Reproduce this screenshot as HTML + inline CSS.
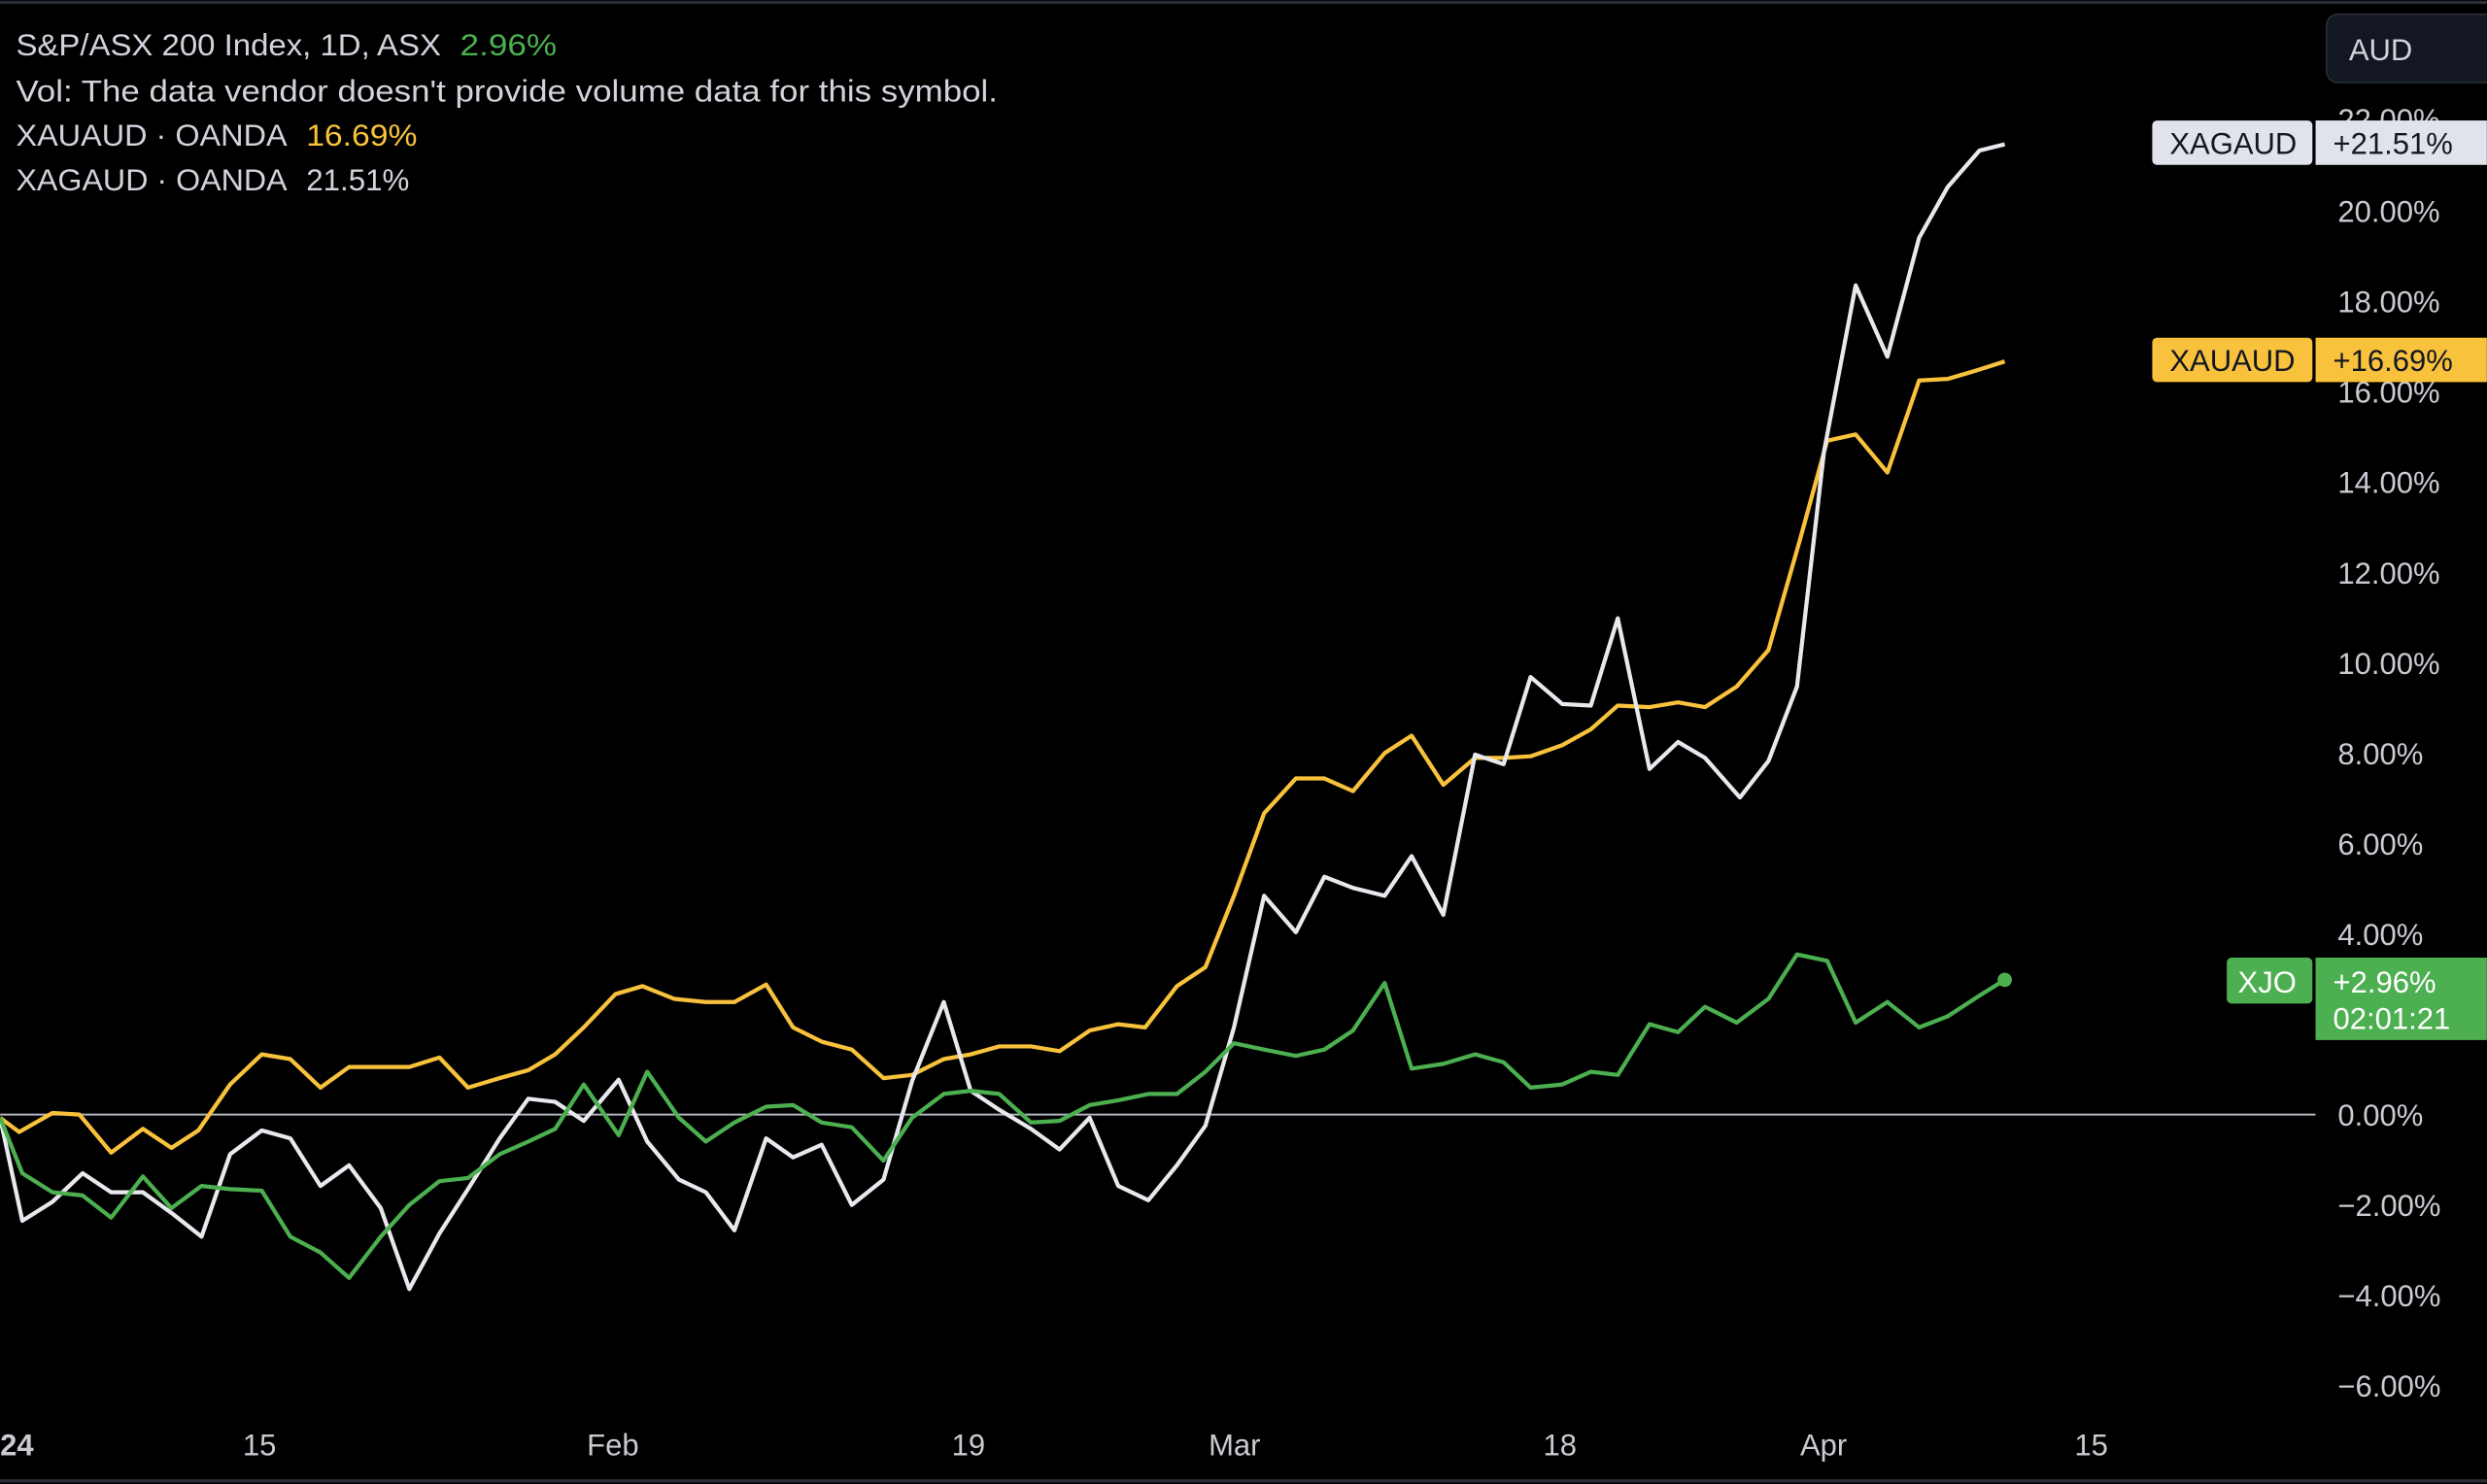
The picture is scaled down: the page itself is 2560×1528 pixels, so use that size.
<!DOCTYPE html>
<html><head><meta charset="utf-8"><style>
html,body{margin:0;padding:0;background:#000;width:2560px;height:1528px;overflow:hidden}
svg{display:block}
text{font-family:"Liberation Sans",sans-serif}
</style></head><body>
<svg width="2560" height="1528" viewBox="0 0 1568 936" xmlns="http://www.w3.org/2000/svg">
<rect width="1568" height="936" fill="#000"/>
<line x1="0" y1="1.5" x2="1568" y2="1.5" stroke="#2a2e39" stroke-width="2"/>
<line x1="0" y1="934" x2="1568" y2="934" stroke="#2a2e39" stroke-width="2"/>
<g font-size="19" fill="#d1d4dc">
<text x="10" y="35" textLength="268" lengthAdjust="spacingAndGlyphs">S&amp;P/ASX 200 Index, 1D, ASX</text>
<text x="290" y="35" fill="#4caf50" textLength="61" lengthAdjust="spacingAndGlyphs">2.96%</text>
<text x="10" y="64" textLength="619" lengthAdjust="spacingAndGlyphs">Vol: The data vendor doesn't provide volume data for this symbol.</text>
<text x="10" y="92" textLength="171" lengthAdjust="spacingAndGlyphs">XAUAUD · OANDA</text>
<text x="193" y="92" fill="#f9c23c" textLength="70" lengthAdjust="spacingAndGlyphs">16.69%</text>
<text x="10" y="120" textLength="171" lengthAdjust="spacingAndGlyphs">XAGAUD · OANDA</text>
<text x="193" y="120" textLength="65" lengthAdjust="spacingAndGlyphs">21.51%</text>
</g>
<line x1="0" y1="703" x2="1460" y2="703" stroke="#b2b5be" stroke-width="1.2"/>
<g font-size="19" fill="#c8cbd2">
<text x="1474" y="82">22.00%</text>
<text x="1474" y="140">20.00%</text>
<text x="1474" y="197">18.00%</text>
<text x="1474" y="254">16.00%</text>
<text x="1474" y="311">14.00%</text>
<text x="1474" y="368">12.00%</text>
<text x="1474" y="425">10.00%</text>
<text x="1474" y="482">8.00%</text>
<text x="1474" y="539">6.00%</text>
<text x="1474" y="596">4.00%</text>
<text x="1474" y="710">0.00%</text>
<text x="1474" y="767">−2.00%</text>
<text x="1474" y="824">−4.00%</text>
<text x="1474" y="881">−6.00%</text>
</g>
<g font-size="19" fill="#c8cbd2">
<text x="0" y="918" font-weight="bold">24</text>
<text x="153" y="918">15</text>
<text x="370" y="918">Feb</text>
<text x="600" y="918">19</text>
<text x="762" y="918">Mar</text>
<text x="973" y="918">18</text>
<text x="1135" y="918">Apr</text>
<text x="1308" y="918">15</text>
</g>
<rect x="1467" y="9" width="110" height="43" rx="7" fill="#131722" stroke="#2a2e39"/>
<text x="1481" y="38" font-size="19" fill="#d1d4dc">AUD</text>
<g fill="none" stroke-width="2.6" stroke-linejoin="round">
<polyline stroke="#f9c23c" points="0,705 12,714 33,702 50,703 70,727 90,712 108,724 125,713 145,684 165,665 183,668 202,686 220,673 240,673 258,673 277,667 295,686 315,680 333,675 350,665 368,648 388,627 405,622 425,630 445,632 463,632 483,621 500,648 518,657 537,662 557,680 575,678 595,668 612,665 630,660 650,660 668,663 687,650 705,646 722,648 742,622 760,610 778,565 797,513 817,491 835,491 853,499 873,475 890,464 910,495 930,478 948,478 965,477 985,470 1003,460 1020,445 1040,446 1058,443 1075,446 1095,433 1115,410 1135,340 1152,278 1170,274 1190,298 1210,240 1228,239 1245,234 1264,228"/>
<polyline stroke="#e8e8ee" points="0,705 14,770 33,758 52,740 70,752 90,752 108,765 127,780 145,728 165,713 183,718 202,748 220,735 240,762 258,813 277,778 295,750 315,718 333,693 350,695 368,707 390,681 408,720 428,744 445,752 463,776 483,718 500,730 518,722 537,760 557,744 575,682 595,632 612,688 630,700 650,712 668,725 687,705 705,748 724,757 742,735 760,710 778,648 797,565 817,588 835,553 853,560 873,565 890,540 910,577 930,476 948,482 965,427 985,444 1003,445 1020,390 1040,485 1058,468 1075,478 1097,503 1115,480 1133,433 1150,285 1170,180 1190,225 1210,150 1228,118 1248,95 1264,91"/>
<polyline stroke="#4caf50" points="0,705 14,740 33,752 52,754 70,768 90,742 108,762 127,748 145,750 165,751 183,780 202,790 220,806 240,780 258,760 277,745 295,743 315,728 333,720 350,712 368,684 390,716 408,676 428,705 445,720 463,708 483,698 500,697 518,708 537,711 557,732 575,705 595,690 612,688 630,690 650,708 668,707 687,697 705,694 724,690 742,690 760,676 778,658 797,662 817,666 835,662 853,650 873,620 890,674 910,671 930,665 948,670 965,686 985,684 1003,676 1020,678 1040,646 1058,651 1075,635 1095,645 1115,630 1133,602 1152,606 1170,645 1190,632 1210,648 1228,641 1248,628 1264,618"/>
</g>
<circle cx="1264" cy="618" r="4.5" fill="#4caf50"/>
<rect x="1357" y="76" width="101" height="28" rx="3" fill="#e0e3eb"/>
<rect x="1460" y="76" width="108" height="28" fill="#e0e3eb"/>
<text x="1368" y="97" font-size="19" fill="#131722">XAGAUD</text>
<text x="1471" y="97" font-size="19" fill="#131722">+21.51%</text>
<rect x="1357" y="213" width="101" height="28" rx="3" fill="#f9c23c"/>
<rect x="1460" y="213" width="108" height="28" fill="#f9c23c"/>
<text x="1368" y="234" font-size="19" fill="#131722">XAUAUD</text>
<text x="1471" y="234" font-size="19" fill="#131722">+16.69%</text>
<rect x="1404" y="604" width="54" height="29" rx="3" fill="#4caf50"/>
<rect x="1460" y="604" width="108" height="52" fill="#4caf50"/>
<text x="1411" y="626" font-size="19" fill="#fff">XJO</text>
<text x="1471" y="626" font-size="19" fill="#fff">+2.96%</text>
<text x="1471" y="649" font-size="19" fill="#fff">02:01:21</text>
</svg>
</body></html>
